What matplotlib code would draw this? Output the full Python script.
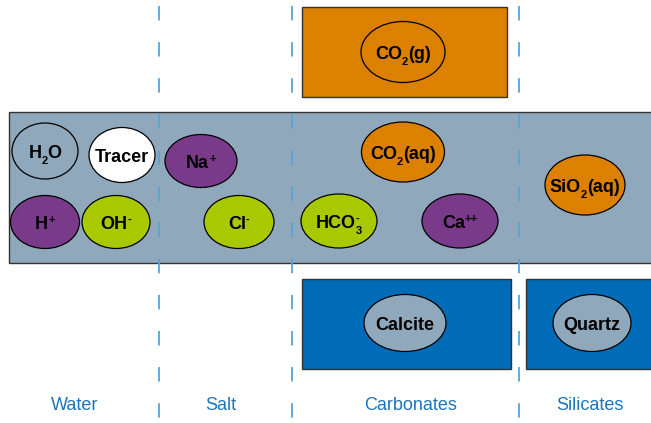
import matplotlib.pyplot as plt
from matplotlib.patches import Ellipse, Rectangle

plt.rcParams['font.family'] = ['Liberation Sans', 'DejaVu Sans']

GRAY = '#8fa8bc'
ORANGE = '#dc8000'
BLUE = '#006cb8'
PURPLE = '#7a3a8a'
GREEN = '#a8c800'
LINE_BLUE = '#5aa2d6'
TEXT_BLUE = '#1a75bb'

# group labels along the bottom
GROUPS = ['Water', 'Salt', 'Carbonates', 'Silicates']
GROUP_X = [75, 221, 411, 590]
SEPARATORS = [159, 292, 519]

# species labels as pieces: (text, kind) kind: n=normal, sub, sup, supx=sup stacked on previous sub
SPECIES = [[('H', 'n'), ('2', 'sub'), ('O', 'n')],
           [('Tracer', 'n')],
           [('Na', 'n'), ('+', 'sup')],
           [('H', 'n'), ('+', 'sup')],
           [('OH', 'n'), ('-', 'sup')],
           [('Cl', 'n'), ('-', 'sup')],
           [('CO', 'n'), ('2', 'sub'), ('(g)', 'n')],
           [('CO', 'n'), ('2', 'sub'), ('(aq)', 'n')],
           [('SiO', 'n'), ('2', 'sub'), ('(aq)', 'n')],
           [('HCO', 'n'), ('3', 'sub'), ('-', 'supx')],
           [('Ca', 'n'), ('++', 'sup')],
           [('Calcite', 'n')],
           [('Quartz', 'n')]]
SPECIES_COLORS = [GRAY, 'white', PURPLE,
                  PURPLE, GREEN, GREEN,
                  ORANGE, ORANGE, ORANGE,
                  GREEN, PURPLE,
                  GRAY, GRAY]

# layout in pixel coords: (cx, cy, w, h)
SPECIES_POS = [(45, 151, 66, 56), (122, 155, 66, 55), (201, 161, 72, 53),
               (45, 222, 69, 53), (116, 222, 68, 53), (239, 222, 70, 53),
               (403, 52, 84, 61), (403, 152, 83, 60), (585, 185, 80, 60),
               (339, 221, 76, 54), (460, 221, 76, 54),
               (405, 323, 82, 57), (592, 323, 78, 57)]

# boxes: (x0, y0, x1, y1, colour)
BOXES = [(9, 112, 660, 263, GRAY),
         (302, 7, 507, 97, ORANGE),
         (302, 279, 511, 369, BLUE),
         (526, 279, 660, 369, BLUE)]

FS = 13.0

fig = plt.figure(figsize=(6.51, 4.23), dpi=100)
ax = fig.add_axes([0, 0, 1, 1])
ax.set_xlim(0, 651)
ax.set_ylim(423, 0)
ax.axis('off')
renderer = fig.canvas.get_renderer()


def draw_label(cx, cy, parts, size):
    px = size * 100 / 72.0
    cap = 0.716 * px
    base = cy + cap / 2
    texts = []
    x = 0
    last_x = 0
    for s, kind in parts:
        fs = size if kind == 'n' else size * 0.62
        if kind == 'n':
            y = base
        elif kind == 'sub':
            y = base + 0.3 * px
        else:
            y = base - 0.38 * px
        start = last_x if kind == 'supx' else x
        t = ax.text(start, y, s, fontsize=fs, fontweight='bold',
                    ha='left', va='baseline', zorder=4)
        w = t.get_window_extent(renderer).width
        texts.append((t, start))
        if kind != 'supx':
            last_x = x
            x = start + w
    for t, start in texts:
        t.set_x(cx - x / 2 + start)


for x0, y0, x1, y1, c in BOXES:
    ax.add_patch(Rectangle((x0, y0), x1 - x0, y1 - y0, facecolor=c,
                           edgecolor='#333333', linewidth=1.0, zorder=1))

for x in SEPARATORS:
    ax.plot([x, x], [6, 423], color=LINE_BLUE, linewidth=1.3,
            linestyle=(0, (8, 12)), zorder=2)

for parts, c, (cx, cy, w, h) in zip(SPECIES, SPECIES_COLORS, SPECIES_POS):
    ax.add_patch(Ellipse((cx, cy), w, h, facecolor=c, edgecolor='black',
                         linewidth=0.9, zorder=3))
    draw_label(cx, cy + 1, parts, FS)

for name, x in zip(GROUPS, GROUP_X):
    ax.text(x, 405, name, ha='center', va='center', fontsize=13,
            color=TEXT_BLUE)

fig.savefig('out.png', dpi=100)
